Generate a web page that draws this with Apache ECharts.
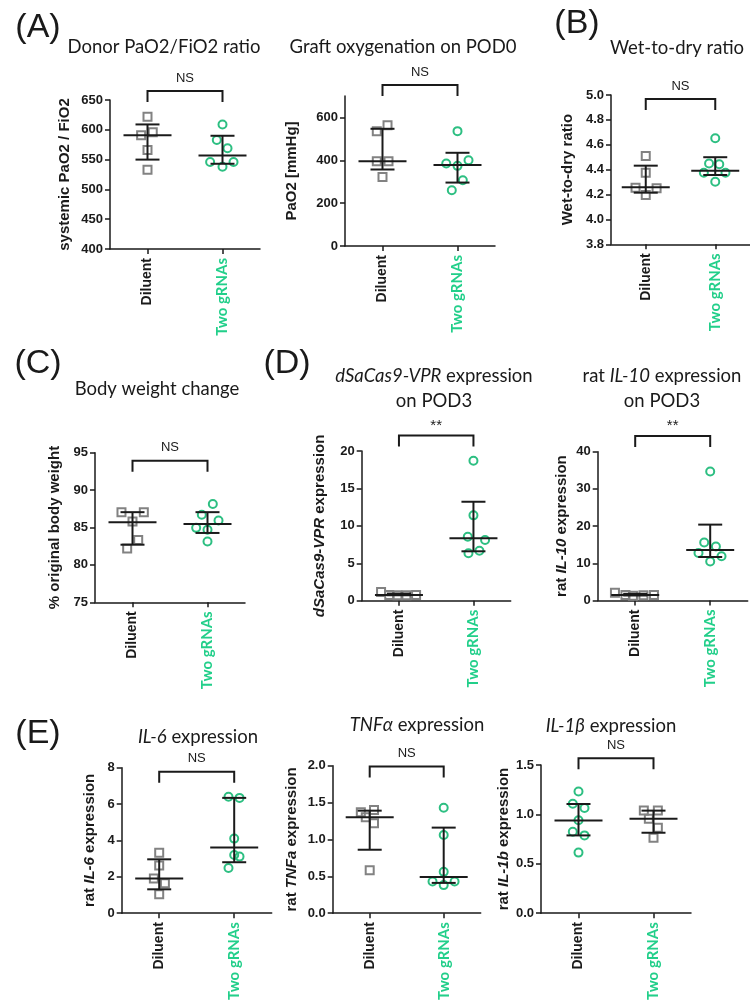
<!DOCTYPE html>
<html>
<head>
<meta charset="utf-8">
<script src="https://cdn.jsdelivr.net/npm/echarts@6.0.0/dist/echarts.min.js"></script>
<style>
  html, body { margin: 0; padding: 0; background: #fff; }
  #main { width: 750px; height: 1003px; }
</style>
</head>
<body>
<div id="main"></div>
<script>
const groups = ['Diluent', 'Two gRNAs'];

// (A) donor PaO2/FiO2
const donorTicks = [400, 450, 500, 550, 600, 650];
const donorDil = [622, 596, 591, 566, 533];
const donorDilJit = [0, 0.07, -0.085, 0, 0];
const donorTwo = [609, 583, 569, 546, 538, 546];
const donorTwoJit = [0, -0.076, 0.067, -0.165, 0, 0.147];
const donorStats = [[591, 550, 609], [557, 543, 590]]; // median, low, high

// (A) graft oxygenation
const graftTicks = [0, 200, 400, 600];
const graftDil = [564, 536, 396, 396, 322];
const graftDilJit = [0.067, -0.076, -0.076, 0.08, 0];
const graftTwo = [536, 385, 374, 400, 307, 260];
const graftTwoJit = [0, -0.15, 0, 0.147, 0.071, -0.076];
const graftStats = [[396, 357, 547], [378, 296, 435]];

// (B) wet-to-dry
const wetTicks = [3.8, 4.0, 4.2, 4.4, 4.6, 4.8, 5.0];
const wetDil = [4.51, 4.375, 4.255, 4.25, 4.196];
const wetDilJit = [0, 0, -0.147, 0.156, 0];
const wetTwo = [4.652, 4.45, 4.443, 4.375, 4.375, 4.303];
const wetTwoJit = [0, -0.089, 0.058, -0.164, 0.147, 0];
const wetStats = [[4.258, 4.215, 4.432], [4.392, 4.357, 4.50]];

// (C) body weight
const bodyTicks = [75, 80, 85, 90, 95];
const bodyDil = [87.05, 87.05, 85.8, 83.33, 82.2];
const bodyDilJit = [-0.147, 0.151, 0, 0.076, -0.071];
const bodyTwo = [88.13, 86.7, 85.93, 84.95, 84.7, 83.14];
const bodyTwoJit = [0.071, -0.076, 0.147, -0.151, 0, 0];
const bodyStats = [[85.7, 82.7, 87.05], [85.48, 84.27, 87.05]];

// (D) dSaCas9-VPR
const casTicks = [0, 5, 10, 15, 20];
const casDil = [1.15, 0.75, 0.72, 0.74, 0.76];
const casDilJit = [-0.24, -0.13, -0.02, 0.1, 0.23];
const casTwo = [18.7, 11.4, 8.55, 8.11, 6.33, 6.68];
const casTwoJit = [0, 0, -0.076, 0.156, -0.067, 0.08];
const casStats = [[0.75, 0.73, 0.95], [8.34, 6.6, 13.22]];

// (D) IL-10
const il10Ticks = [0, 10, 20, 30, 40];
const il10Dil = [2.1, 1.5, 1.3, 1.4, 1.45];
const il10DilJit = [-0.27, -0.13, -0.03, 0.11, 0.25];
const il10Two = [34.7, 15.6, 14.5, 12.8, 11.9, 10.5];
const il10TwoJit = [0, -0.08, 0.076, -0.156, 0.151, 0];
const il10Stats = [[1.45, 1.35, 1.8], [13.6, 11.7, 20.4]];

// (E) IL-6
const il6Ticks = [0, 2, 4, 6, 8];
const il6Dil = [3.32, 2.62, 1.9, 1.64, 1.04];
const il6DilJit = [0, 0, -0.071, 0.076, 0];
const il6Two = [6.4, 6.34, 4.1, 3.2, 3.11, 2.48];
const il6TwoJit = [-0.076, 0.071, 0, 0, 0.071, -0.076];
const il6Stats = [[1.9, 1.31, 2.96], [3.61, 2.8, 6.34]];

// (E) TNFa
const tnfTicks = [0, 0.5, 1.0, 1.5, 2.0];
const tnfDil = [1.37, 1.40, 1.30, 1.22, 0.58];
const tnfDilJit = [-0.12, 0.058, -0.053, 0.058, 0];
const tnfTwo = [1.43, 1.06, 0.56, 0.43, 0.43, 0.38];
const tnfTwoJit = [0, 0, 0, -0.151, 0.147, 0];
const tnfStats = [[1.30, 0.86, 1.39], [0.49, 0.41, 1.16]];

// (E) IL-1b
const il1bTicks = [0, 0.5, 1.0, 1.5];
const il1bDil = [1.232, 1.108, 1.065, 0.94, 0.824, 0.787, 0.613];
const il1bDilJit = [0, -0.076, 0.08, 0, -0.076, 0.08, 0];
const il1bTwo = [1.038, 1.038, 0.955, 0.864, 0.764];
const il1bTwoJit = [-0.129, 0.058, -0.062, 0.058, 0];
const il1bStats = [[0.938, 0.787, 1.105], [0.955, 0.814, 1.038]];

const GRAY = '#828282';
const GREEN = '#2dbf82';
const GREEN_TXT = '#22cf8a';
const INK = '#1a1a1a';
const ARIAL = 'Liberation Sans';
const TITLE_FONT = 'Lato';
const TITLE_SIZE = 18.5;

const panels = [
  { box: [110, 100, 150, 149], min: 400, max: 650, ticks: donorTicks, dp: 0,
    dil: donorDil, dilJit: donorDilJit, two: donorTwo, twoJit: donorTwoJit, stats: donorStats,
    bracket: 665, sig: 'NS', name: 'systemic PaO2 / FiO2', gap: 37 },
  { box: [345, 96, 150, 150], min: 0, max: 700, ticks: graftTicks, dp: 0,
    dil: graftDil, dilJit: graftDilJit, two: graftTwo, twoJit: graftTwoJit, stats: graftStats,
    bracket: 751, sig: 'NS', name: 'PaO2 [mmHg]', gap: 45 },
  { box: [611, 95, 151, 149.3], min: 3.8, max: 5.0, ticks: wetTicks, dp: 1,
    dil: wetDil, dilJit: wetDilJit, two: wetTwo, twoJit: wetTwoJit, stats: wetStats,
    bracket: 4.968, sig: 'NS', name: 'Wet-to-dry ratio', gap: 35 },
  { box: [95, 452.7, 150, 149.6], min: 75, max: 95, ticks: bodyTicks, dp: 0,
    dil: bodyDil, dilJit: bodyDilJit, two: bodyTwo, twoJit: bodyTwoJit, stats: bodyStats,
    bracket: 93.92, sig: 'NS', name: '% original body weight', gap: 32 },
  { box: [361.7, 451, 149, 149.7], min: 0, max: 20, ticks: casTicks, dp: 0,
    dil: casDil, dilJit: casDilJit, two: casTwo, twoJit: casTwoJit, stats: casStats,
    bracket: 22.06, sig: '**', name: '{i|dSaCas9-VPR} expression', gap: 34 },
  { box: [597.7, 451.7, 150, 148.8], min: 0, max: 40, ticks: il10Ticks, dp: 0,
    dil: il10Dil, dilJit: il10DilJit, two: il10Two, twoJit: il10TwoJit, stats: il10Stats,
    bracket: 44.2, sig: '**', name: 'rat {i|IL-10} expression', gap: 28 },
  { box: [121.7, 767.7, 150, 148.3], min: 0, max: 8, ticks: il6Ticks, dp: 0,
    dil: il6Dil, dilJit: il6DilJit, two: il6Two, twoJit: il6TwoJit, stats: il6Stats,
    bracket: 7.78, sig: 'NS', name: 'rat {i|IL-6} expression', gap: 24 },
  { box: [332.7, 765.7, 148, 148.6], min: 0, max: 2, ticks: tnfTicks, dp: 1,
    dil: tnfDil, dilJit: tnfDilJit, two: tnfTwo, twoJit: tnfTwoJit, stats: tnfStats,
    bracket: 1.99, sig: 'NS', name: 'rat {i|TNFa} expression', gap: 33 },
  { box: [541, 765, 150, 149.3], min: 0, max: 1.5, ticks: il1bTicks, dp: 1,
    dil: il1bDil, dilJit: il1bDilJit, two: il1bTwo, twoJit: il1bTwoJit, stats: il1bStats,
    bracket: 1.568, sig: 'NS', name: 'rat {i|IL-1b} expression', gap: 28, swap: true }
];

const titles = [
  { x: 164, y: 47, text: 'Donor PaO2/FiO2 ratio' },
  { x: 403, y: 47, text: 'Graft oxygenation on POD0' },
  { x: 677, y: 48, text: 'Wet-to-dry ratio' },
  { x: 157, y: 389, text: 'Body weight change' },
  { x: 434, y: 389, text: '{i|dSaCas9-VPR} expression\non POD3' },
  { x: 662, y: 389, text: 'rat {i|IL-10} expression\non POD3' },
  { x: 198, y: 737, text: '{i|IL-6} expression' },
  { x: 417, y: 725, text: '{i|TNF\u03b1} expression' },
  { x: 611, y: 726, text: '{i|IL-1\u03b2} expression' }
];
const letters = [
  { x: 38, y: 28, text: '(A)' },
  { x: 577, y: 24, text: '(B)' },
  { x: 38, y: 364, text: '(C)' },
  { x: 287, y: 364, text: '(D)' },
  { x: 38, y: 734, text: '(E)' }
];

const chart = echarts.init(document.getElementById('main'));

const renderErr = (params, api) => {
  const x = api.value(0);
  const pm = api.coord([x, api.value(1)]);
  const pl = api.coord([x, api.value(2)]);
  const ph = api.coord([x, api.value(3)]);
  const st = { stroke: INK, lineWidth: 2 };
  const hl = (cx, cy, w) => ({ type: 'line', shape: { x1: cx - w, y1: cy, x2: cx + w, y2: cy }, style: st });
  return {
    type: 'group',
    children: [
      hl(pm[0], pm[1], 24),
      { type: 'line', shape: { x1: pl[0], y1: pl[1], x2: ph[0], y2: ph[1] }, style: st },
      hl(pl[0], pl[1], 12),
      hl(ph[0], ph[1], 12)
    ]
  };
};

const renderBracket = (params, api) => {
  const a = api.coord([api.value(0), api.value(2)]);
  const b = api.coord([api.value(1), api.value(2)]);
  const label = params.seriesName;
  return {
    type: 'group',
    children: [
      { type: 'polyline',
        shape: { points: [[a[0], a[1] + 11], [a[0], a[1]], [b[0], b[1]], [b[0], b[1] + 11]] },
        style: { stroke: INK, lineWidth: 2, fill: null } },
      { type: 'text',
        style: { text: label, x: (a[0] + b[0]) / 2, y: a[1] - (label === 'NS' ? 13 : 10),
          align: 'center', verticalAlign: 'middle',
          font: (label === 'NS' ? '13px ' : '15px ') + ARIAL, fill: INK } }
    ]
  };
};

const grid = [], xAxis = [], yAxis = [], series = [];

panels.forEach((p, i) => {
  grid.push({ left: p.box[0], top: p.box[1], width: p.box[2], height: p.box[3] });
  xAxis.push({
    type: 'value', gridIndex: i, min: -0.5, max: 1.5,
    splitLine: { show: false },
    axisLine: { show: true, onZero: false, lineStyle: { color: INK, width: 1.5 } },
    axisTick: { show: true, customValues: [0, 1], length: 5, lineStyle: { color: INK, width: 1.5 } },
    axisLabel: {
      customValues: [0, 1], rotate: 90, margin: 9,
      formatter: v => (v === 0 ? '{d|' + groups[0] + '}' : '{g|' + groups[1] + '}'),
      rich: {
        d: { fontFamily: ARIAL, fontWeight: 'bold', fontSize: 14, color: INK },
        g: { fontFamily: TITLE_FONT, fontWeight: 'bold', fontSize: 15, color: GREEN_TXT }
      }
    }
  });
  yAxis.push({
    type: 'value', gridIndex: i, min: p.min, max: p.max,
    name: p.name, nameLocation: 'middle', nameGap: p.gap,
    nameTextStyle: {
      fontFamily: ARIAL, fontWeight: 'bold', fontSize: 15, color: INK, lineHeight: 16,
      rich: { i: { fontStyle: 'italic', fontWeight: 'bold', fontSize: 15, fontFamily: ARIAL, color: INK } }
    },
    splitLine: { show: false },
    axisLine: { show: true, onZero: false, lineStyle: { color: INK, width: 1.5 } },
    axisTick: { show: true, customValues: p.ticks, length: 5, lineStyle: { color: INK, width: 1.5 } },
    axisLabel: {
      customValues: p.ticks, margin: 7,
      fontFamily: ARIAL, fontWeight: 'bold', fontSize: 13, color: INK,
      formatter: v => v.toFixed(p.dp)
    }
  });

  const dilMark = p.swap ? ['circle', GREEN] : ['rect', GRAY];
  const twoMark = p.swap ? ['rect', GRAY] : ['circle', GREEN];
  const pts = (vals, jit, c) => vals.map((v, k) => [c + jit[k], v]);
  [[p.dil, p.dilJit, 0, dilMark], [p.two, p.twoJit, 1, twoMark]].forEach(([vals, jit, c, mk]) => {
    series.push({
      type: 'scatter', xAxisIndex: i, yAxisIndex: i,
      data: pts(vals, jit, c),
      symbol: mk[0], symbolSize: 8,
      itemStyle: { color: 'rgba(255,255,255,0)', borderColor: mk[1], borderWidth: 2, opacity: 1 },
      z: 2
    });
  });
  series.push({
    type: 'custom', xAxisIndex: i, yAxisIndex: i, z: 3, clip: false,
    renderItem: renderErr,
    encode: { x: 0, y: [1, 2, 3] },
    data: p.stats.map((s, c) => [c, s[0], s[1], s[2]])
  });
  series.push({
    type: 'custom', name: p.sig, xAxisIndex: i, yAxisIndex: i, z: 3, clip: false,
    renderItem: renderBracket,
    encode: { x: [0, 1], y: 2 },
    data: [[0, 1, p.bracket]]
  });
});

const graphic = [];
titles.forEach(t => {
  graphic.push({
    type: 'text', x: t.x, y: t.y,
    style: {
      text: t.text, align: 'center', verticalAlign: 'middle',
      fontFamily: TITLE_FONT, fontSize: TITLE_SIZE, fontWeight: 'normal', fill: INK, lineHeight: 25,
      rich: { i: { fontStyle: 'italic', fontWeight: 'normal', fontSize: TITLE_SIZE, fontFamily: TITLE_FONT, fill: INK, lineHeight: 25 } }
    }
  });
});
letters.forEach(t => {
  graphic.push({
    type: 'text', x: t.x, y: t.y,
    style: { text: t.text, align: 'center', verticalAlign: 'middle', fontFamily: ARIAL, fontSize: 34, fill: INK }
  });
});

chart.setOption({
  animation: false,
  backgroundColor: '#fff',
  grid, xAxis, yAxis, series, graphic
});
</script>
</body>
</html>
